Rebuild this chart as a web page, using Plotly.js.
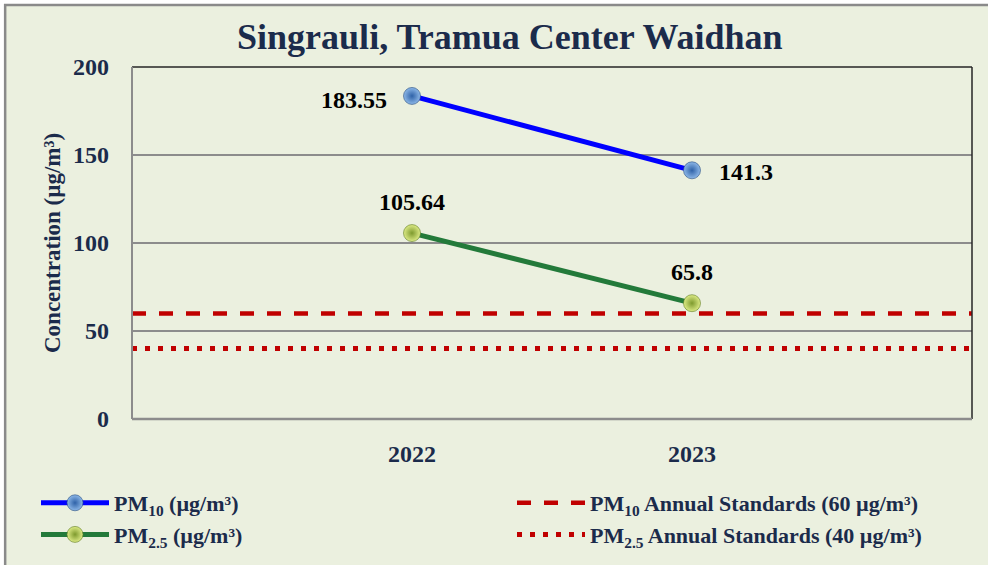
<!DOCTYPE html>
<html>
<head>
<meta charset="utf-8">
<script src="https://cdn.plot.ly/plotly-3.0.1.min.js"></script>
<style>html,body{margin:0;padding:0;background:#fff;}#chart{width:988px;height:565px;}</style>
</head>
<body>
<div id="chart"></div>
<script>
// ---- data ----
const years = ["2022", "2023"];
const pm10 = [183.55, 141.3];
const pm25 = [105.64, 65.8];
const pm10Std = 60;
const pm25Std = 40;
const yTicks = [0, 50, 100, 150, 200];
const titleText = "Singrauli, Tramua Center Waidhan";
const yTitle = "Concentration (µg/m³)";
const names = ["PM<sub>10</sub> (µg/m³)", "PM<sub>2.5</sub> (µg/m³)",
               "PM<sub>10</sub> Annual Standards (60 µg/m³)", "PM<sub>2.5</sub> Annual Standards (40 µg/m³)"];

// ---- styles ----
const FONT = "Liberation Serif, Times New Roman, serif";
const NAVY = "#1B2B4B";
const BG = "#EBF0DF";
const xIdx = years.map((_, i) => i);
const xRange = [-1, years.length];

const traces = [
  {x: xIdx, y: pm10, name: names[0], type: "scatter", mode: "lines+markers",
   line: {color: "#0000FF", width: 5},
   marker: {size: 17, color: "#8DB8E8", gradient: {type: "radial", color: "#2F62A8"}, line: {color: "#284D80", width: 0.6}},
   legend: "legend", legendgroup: "a"},
  {x: xIdx, y: pm25, name: names[1], type: "scatter", mode: "lines+markers",
   line: {color: "#237A3A", width: 5},
   marker: {size: 17, color: "#DDEB86", gradient: {type: "radial", color: "#7E9A2E"}, line: {color: "#5E7A22", width: 0.6}},
   legend: "legend", legendgroup: "b"},
  {x: xRange, y: [pm10Std, pm10Std], name: names[2], type: "scatter", mode: "lines",
   line: {color: "#C00000", width: 4.5, dash: "14px,13px"}, legend: "legend2", legendgroup: "c", hoverinfo: "skip"},
  {x: xRange, y: [pm25Std, pm25Std], name: names[3], type: "scatter", mode: "lines",
   line: {color: "#C00000", width: 5, dash: "5px,8px"}, legend: "legend2", legendgroup: "d", hoverinfo: "skip"}
];

const labelFont = {family: FONT, size: 24, color: "#000000"};
const annotations = [];
const pm10Shift = [[-58, -4], [54, -2]];
pm10.forEach((v, i) => annotations.push({x: i, y: v, xref: "x", yref: "y", text: "<b>" + v + "</b>",
  showarrow: false, font: labelFont, xshift: pm10Shift[i][0], yshift: pm10Shift[i][1]}));
pm25.forEach((v, i) => annotations.push({x: i, y: v, xref: "x", yref: "y", text: "<b>" + v + "</b>",
  showarrow: false, font: labelFont, xshift: 0, yshift: 31}));
// y axis title
annotations.push({x: (52 - 132) / 840, y: 0.5, xref: "paper", yref: "paper", text: "<b>" + yTitle + "</b>",
  textangle: -90, showarrow: false, xanchor: "center", yanchor: "middle",
  font: {family: FONT, size: 23, color: NAVY}});

const shapes = [
  {type: "rect", xref: "paper", yref: "paper", x0: -0.151, x1: 1.05, y0: -0.45, y1: 1.176,
   fillcolor: BG, line: {color: "#8A8A8A", width: 2.5}, layer: "below"},
  {type: "line", xref: "paper", yref: "paper", x0: 0, x1: 1, y0: 1, y1: 1, line: {color: "#262626", width: 1.5}},
  {type: "line", xref: "paper", yref: "paper", x0: 1, x1: 1, y0: 0, y1: 1, line: {color: "#262626", width: 1.5}},
  {type: "line", xref: "paper", yref: "paper", x0: 0, x1: 0, y0: 0, y1: 1, line: {color: "#8C8C8C", width: 2}},
  {type: "line", xref: "paper", yref: "paper", x0: 0, x1: 1, y0: 0, y1: 0, line: {color: "#8C8C8C", width: 2.5}}
];

const legendFont = {family: FONT, size: 22, color: NAVY, weight: "bold"};

const layout = {
  width: 988, height: 565,
  margin: {l: 132, r: 16, t: 67, b: 146, autoexpand: false},
  paper_bgcolor: "#FFFFFF", plot_bgcolor: BG,
  title: {text: "<b>" + titleText + "</b>", font: {family: FONT, size: 36, color: NAVY},
          x: 0.516, xref: "container", xanchor: "center", y: 0.935, yref: "container", yanchor: "middle"},
  xaxis: {range: xRange, tickvals: xIdx, ticktext: years.map(y => "<b>" + y + "</b>"),
          showgrid: false, zeroline: false, showline: false, ticks: "",
          tickfont: {family: FONT, size: 24, color: NAVY}, ticklabelstandoff: 18},
  yaxis: {range: [0, 200], tickvals: yTicks, ticktext: yTicks.map(t => "<b>" + t + "</b>"),
          showgrid: true, gridcolor: "#8C8C8C", gridwidth: 1.5, zeroline: false, showline: false, ticks: "",
          tickfont: {family: FONT, size: 24, color: NAVY}, ticklabelstandoff: 22},
  showlegend: true,
  legend: {x: 36 / 988, xref: "container", xanchor: "left", y: 1 - 482 / 565, yref: "container", yanchor: "top",
           orientation: "v", bgcolor: "rgba(0,0,0,0)", font: legendFont, itemwidth: 68, tracegroupgap: 0},
  legend2: {x: 512 / 988, xref: "container", xanchor: "left", y: 1 - 482 / 565, yref: "container", yanchor: "top",
           orientation: "v", bgcolor: "rgba(0,0,0,0)", font: legendFont, itemwidth: 68, tracegroupgap: 0},
  annotations: annotations,
  shapes: shapes
};

Plotly.newPlot("chart", traces, layout, {displayModeBar: false, staticPlot: true});
</script>
</body>
</html>
